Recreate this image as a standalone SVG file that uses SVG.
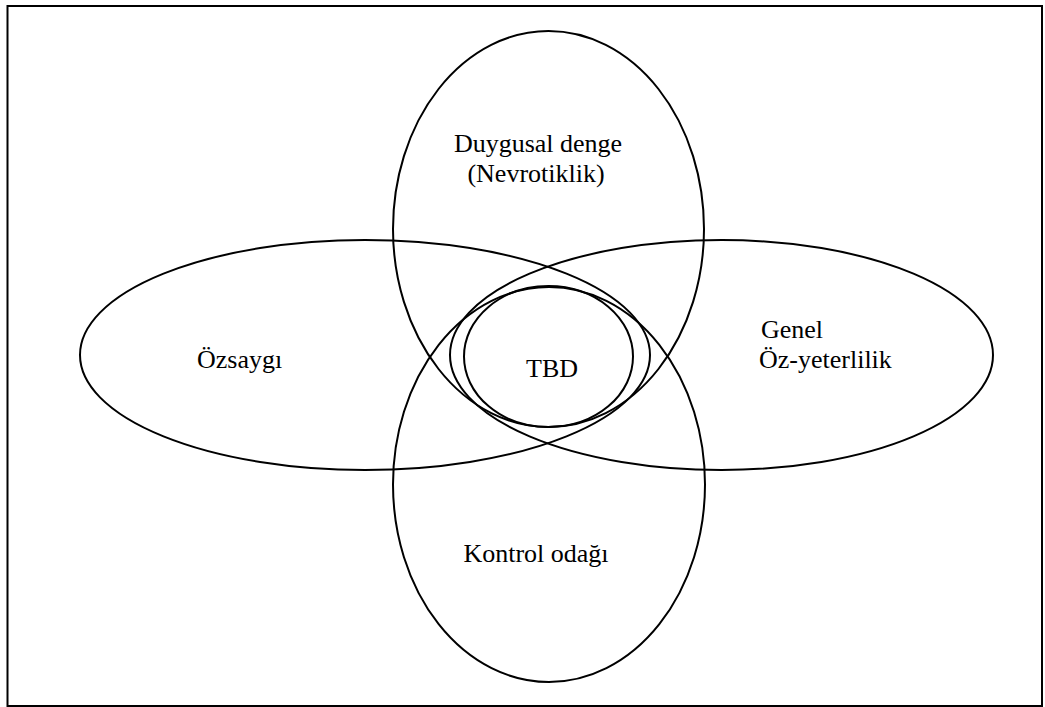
<svg xmlns="http://www.w3.org/2000/svg" width="1045" height="707" viewBox="0 0 1045 707">
<style>
.e{fill:none;stroke:#000;stroke-width:2}
.t{font-family:"Liberation Serif","Times New Roman",serif;font-size:26px;fill:#000}
</style>
<rect x="0" y="0" width="1045" height="707" fill="#fff"/>
<rect x="7.5" y="6" width="1034.5" height="700" fill="none" stroke="#000" stroke-width="2"/>
<g id="duygusal"><ellipse class="e" cx="548.5" cy="229" rx="155.5" ry="198"/></g>
<g id="kontrol"><ellipse class="e" cx="549" cy="484.5" rx="156" ry="197.5"/></g>
<g id="ozsaygi"><ellipse class="e" cx="365" cy="355" rx="285" ry="115"/></g>
<g id="genel"><ellipse class="e" cx="721.5" cy="355" rx="271.5" ry="115"/></g>
<g id="tbd"><ellipse class="e" cx="548.5" cy="356.5" rx="84.5" ry="70.5"/></g>
<g id="labels">
<text class="t" x="538" y="152" text-anchor="middle">Duygusal denge</text>
<text class="t" x="536" y="182" text-anchor="middle">(Nevrotiklik)</text>
<text class="t" x="197" y="368">Özsaygı</text>
<text class="t" x="552" y="377" text-anchor="middle">TBD</text>
<text class="t" x="761" y="338">Genel</text>
<text class="t" x="759" y="368">Öz-yeterlilik</text>
<text class="t" x="536" y="562" text-anchor="middle">Kontrol odağı</text>
</g>
<g id="connectors"/>
</svg>
